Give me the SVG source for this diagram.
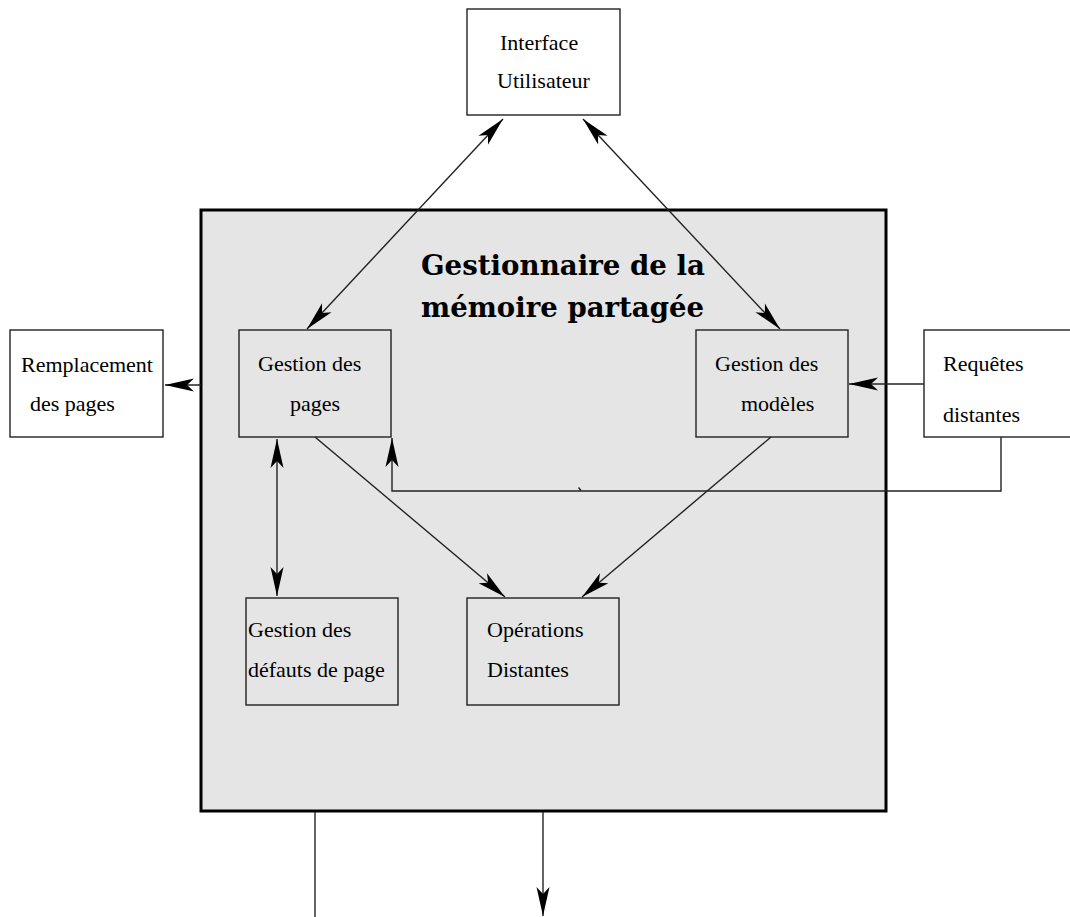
<svg xmlns="http://www.w3.org/2000/svg" width="1070" height="917" viewBox="0 0 1070 917">
  <style>
    .box { fill: #ffffff; stroke: #222222; stroke-width: 1.4; }
    .inner { fill: #e5e5e5; stroke: #222222; stroke-width: 1.4; }
    .frame { fill: #e5e5e5; stroke: #000000; stroke-width: 3; }
    .lbl { font-family: "Liberation Serif", "Times New Roman", serif; font-size: 22px; fill: #000000; }
    .title { font-family: "DejaVu Serif", "Liberation Serif", serif; font-weight: bold; font-size: 27px; fill: #000000; }
    .wire { fill: none; stroke: #222222; stroke-width: 1.4; }
  </style>
  <defs>
    <marker id="head" markerUnits="userSpaceOnUse" markerWidth="32" markerHeight="16" viewBox="-30 -8 32 16" refX="0" refY="0" orient="auto-start-reverse">
      <path d="M0,0 L-29,-6.5 L-22,0 L-29,6.5 Z" fill="#000000"/>
    </marker>
  </defs>

  <rect width="1070" height="917" fill="#ffffff"/>

  <!-- shared-memory manager frame -->
  <g id="manager">
    <rect class="frame" x="201" y="210" width="685" height="601"/>
    <text class="title" x="421" y="275" textLength="284" lengthAdjust="spacingAndGlyphs">Gestionnaire de la</text>
    <text class="title" x="421" y="317" textLength="283" lengthAdjust="spacingAndGlyphs">mémoire partagée</text>
  </g>

  <g id="interface">
    <rect class="box" x="467" y="9" width="153" height="106"/>
    <text class="lbl" x="500" y="50">Interface</text>
    <text class="lbl" x="497" y="88">Utilisateur</text>
  </g>

  <g id="remplacement">
    <rect class="box" x="10" y="330" width="153" height="107"/>
    <text class="lbl" x="21" y="372">Remplacement</text>
    <text class="lbl" x="30" y="411">des pages</text>
  </g>

  <g id="gestion-pages">
    <rect class="inner" x="239" y="330" width="152" height="107"/>
    <text class="lbl" x="258" y="371">Gestion des</text>
    <text class="lbl" x="290" y="411">pages</text>
  </g>

  <g id="gestion-modeles">
    <rect class="inner" x="696" y="330" width="152" height="107"/>
    <text class="lbl" x="715" y="371">Gestion des</text>
    <text class="lbl" x="741" y="411">modèles</text>
  </g>

  <g id="requetes">
    <rect class="box" x="924" y="330" width="160" height="107"/>
    <text class="lbl" x="943" y="371">Requêtes</text>
    <text class="lbl" x="943" y="422">distantes</text>
  </g>

  <g id="defauts">
    <rect class="inner" x="246" y="598" width="152" height="107"/>
    <text class="lbl" x="248" y="637">Gestion des</text>
    <text class="lbl" x="248" y="677">défauts de page</text>
  </g>

  <g id="operations">
    <rect class="inner" x="467" y="598" width="152" height="107"/>
    <text class="lbl" x="487" y="637">Opérations</text>
    <text class="lbl" x="487" y="677">Distantes</text>
  </g>

  <g id="connectors">
    <line class="wire" x1="503" y1="119" x2="307" y2="329" marker-start="url(#head)" marker-end="url(#head)"/>
    <line class="wire" x1="583" y1="119" x2="780" y2="329" marker-start="url(#head)" marker-end="url(#head)"/>
    <line class="wire" x1="201" y1="385" x2="165" y2="385" marker-end="url(#head)"/>
    <line class="wire" x1="924" y1="384" x2="849" y2="384" marker-end="url(#head)"/>
    <polyline class="wire" points="1001,437 1001,491 392,491 392,438" marker-end="url(#head)"/>
    <line class="wire" x1="578.5" y1="487.5" x2="581" y2="490.5"/>
    <line class="wire" x1="277" y1="439" x2="277" y2="596" marker-start="url(#head)" marker-end="url(#head)"/>
    <line class="wire" x1="315" y1="437" x2="505" y2="597" marker-end="url(#head)"/>
    <line class="wire" x1="771" y1="437" x2="582" y2="597" marker-end="url(#head)"/>
    <line class="wire" x1="315" y1="812" x2="315" y2="917"/>
    <line class="wire" x1="543" y1="812" x2="543" y2="916" marker-end="url(#head)"/>
  </g>
</svg>
